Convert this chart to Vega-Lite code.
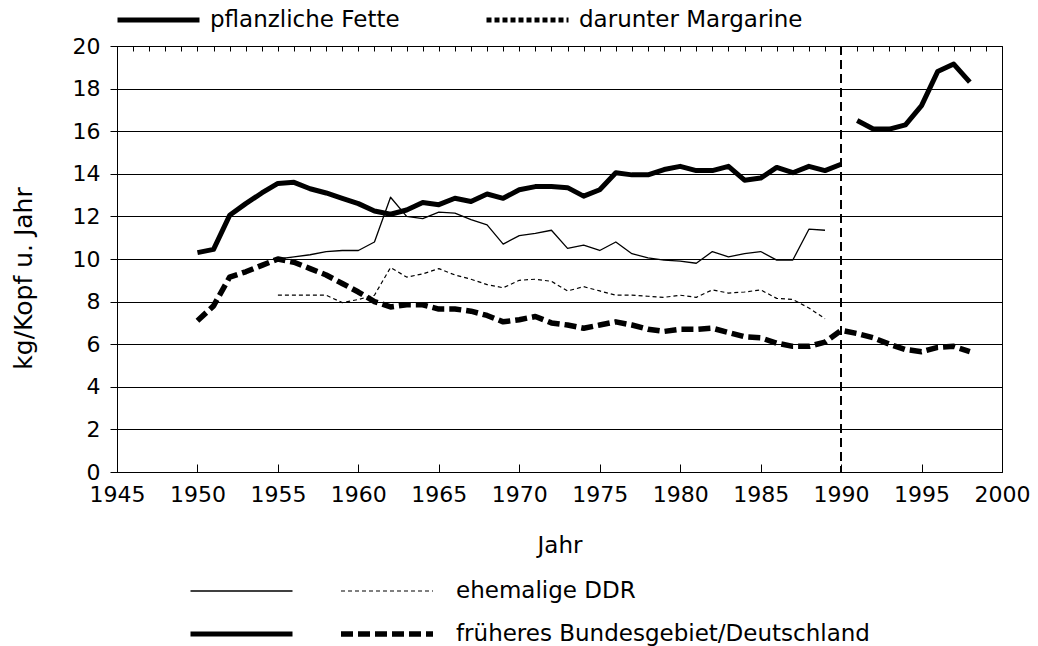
{
  "$schema": "https://vega.github.io/schema/vega-lite/v6.json",
  "width": 885,
  "height": 426,
  "autosize": {"type": "none"},
  "padding": {"left": 117, "top": 46, "right": 36, "bottom": 174},
  "config": {
    "view": {"stroke": "black", "strokeWidth": 1},
    "font": "DejaVu Sans",
    "axis": {"labelColor": "black", "titleColor": "black", "domainColor": "black", "tickColor": "black", "titleFontWeight": "normal", "labelFont": "DejaVu Sans", "titleFont": "DejaVu Sans"},
    "legend": {"labelColor": "black", "labelFont": "DejaVu Sans", "labelFontSize": 23, "labelLimit": 0, "symbolStrokeColor": "black", "symbolType": "stroke", "title": null, "padding": 0}
  },
  "data": {
    "values": [
      {"Jahr": 1950, "Wert": 10.3, "Produkt": "pflanzliche Fette", "Gebiet": "früheres Bundesgebiet/Deutschland", "Reihe": "früheres Bundesgebiet"},
      {"Jahr": 1951, "Wert": 10.45, "Produkt": "pflanzliche Fette", "Gebiet": "früheres Bundesgebiet/Deutschland", "Reihe": "früheres Bundesgebiet"},
      {"Jahr": 1952, "Wert": 12.05, "Produkt": "pflanzliche Fette", "Gebiet": "früheres Bundesgebiet/Deutschland", "Reihe": "früheres Bundesgebiet"},
      {"Jahr": 1953, "Wert": 12.6, "Produkt": "pflanzliche Fette", "Gebiet": "früheres Bundesgebiet/Deutschland", "Reihe": "früheres Bundesgebiet"},
      {"Jahr": 1954, "Wert": 13.1, "Produkt": "pflanzliche Fette", "Gebiet": "früheres Bundesgebiet/Deutschland", "Reihe": "früheres Bundesgebiet"},
      {"Jahr": 1955, "Wert": 13.55, "Produkt": "pflanzliche Fette", "Gebiet": "früheres Bundesgebiet/Deutschland", "Reihe": "früheres Bundesgebiet"},
      {"Jahr": 1956, "Wert": 13.6, "Produkt": "pflanzliche Fette", "Gebiet": "früheres Bundesgebiet/Deutschland", "Reihe": "früheres Bundesgebiet"},
      {"Jahr": 1957, "Wert": 13.3, "Produkt": "pflanzliche Fette", "Gebiet": "früheres Bundesgebiet/Deutschland", "Reihe": "früheres Bundesgebiet"},
      {"Jahr": 1958, "Wert": 13.1, "Produkt": "pflanzliche Fette", "Gebiet": "früheres Bundesgebiet/Deutschland", "Reihe": "früheres Bundesgebiet"},
      {"Jahr": 1959, "Wert": 12.85, "Produkt": "pflanzliche Fette", "Gebiet": "früheres Bundesgebiet/Deutschland", "Reihe": "früheres Bundesgebiet"},
      {"Jahr": 1960, "Wert": 12.6, "Produkt": "pflanzliche Fette", "Gebiet": "früheres Bundesgebiet/Deutschland", "Reihe": "früheres Bundesgebiet"},
      {"Jahr": 1961, "Wert": 12.25, "Produkt": "pflanzliche Fette", "Gebiet": "früheres Bundesgebiet/Deutschland", "Reihe": "früheres Bundesgebiet"},
      {"Jahr": 1962, "Wert": 12.1, "Produkt": "pflanzliche Fette", "Gebiet": "früheres Bundesgebiet/Deutschland", "Reihe": "früheres Bundesgebiet"},
      {"Jahr": 1963, "Wert": 12.3, "Produkt": "pflanzliche Fette", "Gebiet": "früheres Bundesgebiet/Deutschland", "Reihe": "früheres Bundesgebiet"},
      {"Jahr": 1964, "Wert": 12.65, "Produkt": "pflanzliche Fette", "Gebiet": "früheres Bundesgebiet/Deutschland", "Reihe": "früheres Bundesgebiet"},
      {"Jahr": 1965, "Wert": 12.55, "Produkt": "pflanzliche Fette", "Gebiet": "früheres Bundesgebiet/Deutschland", "Reihe": "früheres Bundesgebiet"},
      {"Jahr": 1966, "Wert": 12.85, "Produkt": "pflanzliche Fette", "Gebiet": "früheres Bundesgebiet/Deutschland", "Reihe": "früheres Bundesgebiet"},
      {"Jahr": 1967, "Wert": 12.7, "Produkt": "pflanzliche Fette", "Gebiet": "früheres Bundesgebiet/Deutschland", "Reihe": "früheres Bundesgebiet"},
      {"Jahr": 1968, "Wert": 13.05, "Produkt": "pflanzliche Fette", "Gebiet": "früheres Bundesgebiet/Deutschland", "Reihe": "früheres Bundesgebiet"},
      {"Jahr": 1969, "Wert": 12.85, "Produkt": "pflanzliche Fette", "Gebiet": "früheres Bundesgebiet/Deutschland", "Reihe": "früheres Bundesgebiet"},
      {"Jahr": 1970, "Wert": 13.25, "Produkt": "pflanzliche Fette", "Gebiet": "früheres Bundesgebiet/Deutschland", "Reihe": "früheres Bundesgebiet"},
      {"Jahr": 1971, "Wert": 13.4, "Produkt": "pflanzliche Fette", "Gebiet": "früheres Bundesgebiet/Deutschland", "Reihe": "früheres Bundesgebiet"},
      {"Jahr": 1972, "Wert": 13.4, "Produkt": "pflanzliche Fette", "Gebiet": "früheres Bundesgebiet/Deutschland", "Reihe": "früheres Bundesgebiet"},
      {"Jahr": 1973, "Wert": 13.35, "Produkt": "pflanzliche Fette", "Gebiet": "früheres Bundesgebiet/Deutschland", "Reihe": "früheres Bundesgebiet"},
      {"Jahr": 1974, "Wert": 12.95, "Produkt": "pflanzliche Fette", "Gebiet": "früheres Bundesgebiet/Deutschland", "Reihe": "früheres Bundesgebiet"},
      {"Jahr": 1975, "Wert": 13.25, "Produkt": "pflanzliche Fette", "Gebiet": "früheres Bundesgebiet/Deutschland", "Reihe": "früheres Bundesgebiet"},
      {"Jahr": 1976, "Wert": 14.05, "Produkt": "pflanzliche Fette", "Gebiet": "früheres Bundesgebiet/Deutschland", "Reihe": "früheres Bundesgebiet"},
      {"Jahr": 1977, "Wert": 13.95, "Produkt": "pflanzliche Fette", "Gebiet": "früheres Bundesgebiet/Deutschland", "Reihe": "früheres Bundesgebiet"},
      {"Jahr": 1978, "Wert": 13.95, "Produkt": "pflanzliche Fette", "Gebiet": "früheres Bundesgebiet/Deutschland", "Reihe": "früheres Bundesgebiet"},
      {"Jahr": 1979, "Wert": 14.2, "Produkt": "pflanzliche Fette", "Gebiet": "früheres Bundesgebiet/Deutschland", "Reihe": "früheres Bundesgebiet"},
      {"Jahr": 1980, "Wert": 14.35, "Produkt": "pflanzliche Fette", "Gebiet": "früheres Bundesgebiet/Deutschland", "Reihe": "früheres Bundesgebiet"},
      {"Jahr": 1981, "Wert": 14.15, "Produkt": "pflanzliche Fette", "Gebiet": "früheres Bundesgebiet/Deutschland", "Reihe": "früheres Bundesgebiet"},
      {"Jahr": 1982, "Wert": 14.15, "Produkt": "pflanzliche Fette", "Gebiet": "früheres Bundesgebiet/Deutschland", "Reihe": "früheres Bundesgebiet"},
      {"Jahr": 1983, "Wert": 14.35, "Produkt": "pflanzliche Fette", "Gebiet": "früheres Bundesgebiet/Deutschland", "Reihe": "früheres Bundesgebiet"},
      {"Jahr": 1984, "Wert": 13.7, "Produkt": "pflanzliche Fette", "Gebiet": "früheres Bundesgebiet/Deutschland", "Reihe": "früheres Bundesgebiet"},
      {"Jahr": 1985, "Wert": 13.8, "Produkt": "pflanzliche Fette", "Gebiet": "früheres Bundesgebiet/Deutschland", "Reihe": "früheres Bundesgebiet"},
      {"Jahr": 1986, "Wert": 14.3, "Produkt": "pflanzliche Fette", "Gebiet": "früheres Bundesgebiet/Deutschland", "Reihe": "früheres Bundesgebiet"},
      {"Jahr": 1987, "Wert": 14.05, "Produkt": "pflanzliche Fette", "Gebiet": "früheres Bundesgebiet/Deutschland", "Reihe": "früheres Bundesgebiet"},
      {"Jahr": 1988, "Wert": 14.35, "Produkt": "pflanzliche Fette", "Gebiet": "früheres Bundesgebiet/Deutschland", "Reihe": "früheres Bundesgebiet"},
      {"Jahr": 1989, "Wert": 14.15, "Produkt": "pflanzliche Fette", "Gebiet": "früheres Bundesgebiet/Deutschland", "Reihe": "früheres Bundesgebiet"},
      {"Jahr": 1990, "Wert": 14.45, "Produkt": "pflanzliche Fette", "Gebiet": "früheres Bundesgebiet/Deutschland", "Reihe": "früheres Bundesgebiet"},
      {"Jahr": 1991, "Wert": 16.5, "Produkt": "pflanzliche Fette", "Gebiet": "früheres Bundesgebiet/Deutschland", "Reihe": "Deutschland"},
      {"Jahr": 1992, "Wert": 16.1, "Produkt": "pflanzliche Fette", "Gebiet": "früheres Bundesgebiet/Deutschland", "Reihe": "Deutschland"},
      {"Jahr": 1993, "Wert": 16.1, "Produkt": "pflanzliche Fette", "Gebiet": "früheres Bundesgebiet/Deutschland", "Reihe": "Deutschland"},
      {"Jahr": 1994, "Wert": 16.3, "Produkt": "pflanzliche Fette", "Gebiet": "früheres Bundesgebiet/Deutschland", "Reihe": "Deutschland"},
      {"Jahr": 1995, "Wert": 17.2, "Produkt": "pflanzliche Fette", "Gebiet": "früheres Bundesgebiet/Deutschland", "Reihe": "Deutschland"},
      {"Jahr": 1996, "Wert": 18.8, "Produkt": "pflanzliche Fette", "Gebiet": "früheres Bundesgebiet/Deutschland", "Reihe": "Deutschland"},
      {"Jahr": 1997, "Wert": 19.15, "Produkt": "pflanzliche Fette", "Gebiet": "früheres Bundesgebiet/Deutschland", "Reihe": "Deutschland"},
      {"Jahr": 1998, "Wert": 18.3, "Produkt": "pflanzliche Fette", "Gebiet": "früheres Bundesgebiet/Deutschland", "Reihe": "Deutschland"},
      {"Jahr": 1955, "Wert": 10.0, "Produkt": "pflanzliche Fette", "Gebiet": "ehemalige DDR", "Reihe": "ehemalige DDR"},
      {"Jahr": 1956, "Wert": 10.1, "Produkt": "pflanzliche Fette", "Gebiet": "ehemalige DDR", "Reihe": "ehemalige DDR"},
      {"Jahr": 1957, "Wert": 10.2, "Produkt": "pflanzliche Fette", "Gebiet": "ehemalige DDR", "Reihe": "ehemalige DDR"},
      {"Jahr": 1958, "Wert": 10.35, "Produkt": "pflanzliche Fette", "Gebiet": "ehemalige DDR", "Reihe": "ehemalige DDR"},
      {"Jahr": 1959, "Wert": 10.4, "Produkt": "pflanzliche Fette", "Gebiet": "ehemalige DDR", "Reihe": "ehemalige DDR"},
      {"Jahr": 1960, "Wert": 10.4, "Produkt": "pflanzliche Fette", "Gebiet": "ehemalige DDR", "Reihe": "ehemalige DDR"},
      {"Jahr": 1961, "Wert": 10.8, "Produkt": "pflanzliche Fette", "Gebiet": "ehemalige DDR", "Reihe": "ehemalige DDR"},
      {"Jahr": 1962, "Wert": 12.9, "Produkt": "pflanzliche Fette", "Gebiet": "ehemalige DDR", "Reihe": "ehemalige DDR"},
      {"Jahr": 1963, "Wert": 12.0, "Produkt": "pflanzliche Fette", "Gebiet": "ehemalige DDR", "Reihe": "ehemalige DDR"},
      {"Jahr": 1964, "Wert": 11.9, "Produkt": "pflanzliche Fette", "Gebiet": "ehemalige DDR", "Reihe": "ehemalige DDR"},
      {"Jahr": 1965, "Wert": 12.2, "Produkt": "pflanzliche Fette", "Gebiet": "ehemalige DDR", "Reihe": "ehemalige DDR"},
      {"Jahr": 1966, "Wert": 12.15, "Produkt": "pflanzliche Fette", "Gebiet": "ehemalige DDR", "Reihe": "ehemalige DDR"},
      {"Jahr": 1967, "Wert": 11.85, "Produkt": "pflanzliche Fette", "Gebiet": "ehemalige DDR", "Reihe": "ehemalige DDR"},
      {"Jahr": 1968, "Wert": 11.6, "Produkt": "pflanzliche Fette", "Gebiet": "ehemalige DDR", "Reihe": "ehemalige DDR"},
      {"Jahr": 1969, "Wert": 10.7, "Produkt": "pflanzliche Fette", "Gebiet": "ehemalige DDR", "Reihe": "ehemalige DDR"},
      {"Jahr": 1970, "Wert": 11.1, "Produkt": "pflanzliche Fette", "Gebiet": "ehemalige DDR", "Reihe": "ehemalige DDR"},
      {"Jahr": 1971, "Wert": 11.2, "Produkt": "pflanzliche Fette", "Gebiet": "ehemalige DDR", "Reihe": "ehemalige DDR"},
      {"Jahr": 1972, "Wert": 11.35, "Produkt": "pflanzliche Fette", "Gebiet": "ehemalige DDR", "Reihe": "ehemalige DDR"},
      {"Jahr": 1973, "Wert": 10.5, "Produkt": "pflanzliche Fette", "Gebiet": "ehemalige DDR", "Reihe": "ehemalige DDR"},
      {"Jahr": 1974, "Wert": 10.65, "Produkt": "pflanzliche Fette", "Gebiet": "ehemalige DDR", "Reihe": "ehemalige DDR"},
      {"Jahr": 1975, "Wert": 10.4, "Produkt": "pflanzliche Fette", "Gebiet": "ehemalige DDR", "Reihe": "ehemalige DDR"},
      {"Jahr": 1976, "Wert": 10.8, "Produkt": "pflanzliche Fette", "Gebiet": "ehemalige DDR", "Reihe": "ehemalige DDR"},
      {"Jahr": 1977, "Wert": 10.25, "Produkt": "pflanzliche Fette", "Gebiet": "ehemalige DDR", "Reihe": "ehemalige DDR"},
      {"Jahr": 1978, "Wert": 10.05, "Produkt": "pflanzliche Fette", "Gebiet": "ehemalige DDR", "Reihe": "ehemalige DDR"},
      {"Jahr": 1979, "Wert": 9.95, "Produkt": "pflanzliche Fette", "Gebiet": "ehemalige DDR", "Reihe": "ehemalige DDR"},
      {"Jahr": 1980, "Wert": 9.9, "Produkt": "pflanzliche Fette", "Gebiet": "ehemalige DDR", "Reihe": "ehemalige DDR"},
      {"Jahr": 1981, "Wert": 9.8, "Produkt": "pflanzliche Fette", "Gebiet": "ehemalige DDR", "Reihe": "ehemalige DDR"},
      {"Jahr": 1982, "Wert": 10.35, "Produkt": "pflanzliche Fette", "Gebiet": "ehemalige DDR", "Reihe": "ehemalige DDR"},
      {"Jahr": 1983, "Wert": 10.1, "Produkt": "pflanzliche Fette", "Gebiet": "ehemalige DDR", "Reihe": "ehemalige DDR"},
      {"Jahr": 1984, "Wert": 10.25, "Produkt": "pflanzliche Fette", "Gebiet": "ehemalige DDR", "Reihe": "ehemalige DDR"},
      {"Jahr": 1985, "Wert": 10.35, "Produkt": "pflanzliche Fette", "Gebiet": "ehemalige DDR", "Reihe": "ehemalige DDR"},
      {"Jahr": 1986, "Wert": 9.95, "Produkt": "pflanzliche Fette", "Gebiet": "ehemalige DDR", "Reihe": "ehemalige DDR"},
      {"Jahr": 1987, "Wert": 9.95, "Produkt": "pflanzliche Fette", "Gebiet": "ehemalige DDR", "Reihe": "ehemalige DDR"},
      {"Jahr": 1988, "Wert": 11.4, "Produkt": "pflanzliche Fette", "Gebiet": "ehemalige DDR", "Reihe": "ehemalige DDR"},
      {"Jahr": 1989, "Wert": 11.35, "Produkt": "pflanzliche Fette", "Gebiet": "ehemalige DDR", "Reihe": "ehemalige DDR"},
      {"Jahr": 1950, "Wert": 7.1, "Produkt": "darunter Margarine", "Gebiet": "früheres Bundesgebiet/Deutschland", "Reihe": "früheres Bundesgebiet"},
      {"Jahr": 1951, "Wert": 7.8, "Produkt": "darunter Margarine", "Gebiet": "früheres Bundesgebiet/Deutschland", "Reihe": "früheres Bundesgebiet"},
      {"Jahr": 1952, "Wert": 9.15, "Produkt": "darunter Margarine", "Gebiet": "früheres Bundesgebiet/Deutschland", "Reihe": "früheres Bundesgebiet"},
      {"Jahr": 1953, "Wert": 9.4, "Produkt": "darunter Margarine", "Gebiet": "früheres Bundesgebiet/Deutschland", "Reihe": "früheres Bundesgebiet"},
      {"Jahr": 1954, "Wert": 9.7, "Produkt": "darunter Margarine", "Gebiet": "früheres Bundesgebiet/Deutschland", "Reihe": "früheres Bundesgebiet"},
      {"Jahr": 1955, "Wert": 10.0, "Produkt": "darunter Margarine", "Gebiet": "früheres Bundesgebiet/Deutschland", "Reihe": "früheres Bundesgebiet"},
      {"Jahr": 1956, "Wert": 9.85, "Produkt": "darunter Margarine", "Gebiet": "früheres Bundesgebiet/Deutschland", "Reihe": "früheres Bundesgebiet"},
      {"Jahr": 1957, "Wert": 9.55, "Produkt": "darunter Margarine", "Gebiet": "früheres Bundesgebiet/Deutschland", "Reihe": "früheres Bundesgebiet"},
      {"Jahr": 1958, "Wert": 9.25, "Produkt": "darunter Margarine", "Gebiet": "früheres Bundesgebiet/Deutschland", "Reihe": "früheres Bundesgebiet"},
      {"Jahr": 1959, "Wert": 8.85, "Produkt": "darunter Margarine", "Gebiet": "früheres Bundesgebiet/Deutschland", "Reihe": "früheres Bundesgebiet"},
      {"Jahr": 1960, "Wert": 8.45, "Produkt": "darunter Margarine", "Gebiet": "früheres Bundesgebiet/Deutschland", "Reihe": "früheres Bundesgebiet"},
      {"Jahr": 1961, "Wert": 8.0, "Produkt": "darunter Margarine", "Gebiet": "früheres Bundesgebiet/Deutschland", "Reihe": "früheres Bundesgebiet"},
      {"Jahr": 1962, "Wert": 7.75, "Produkt": "darunter Margarine", "Gebiet": "früheres Bundesgebiet/Deutschland", "Reihe": "früheres Bundesgebiet"},
      {"Jahr": 1963, "Wert": 7.85, "Produkt": "darunter Margarine", "Gebiet": "früheres Bundesgebiet/Deutschland", "Reihe": "früheres Bundesgebiet"},
      {"Jahr": 1964, "Wert": 7.85, "Produkt": "darunter Margarine", "Gebiet": "früheres Bundesgebiet/Deutschland", "Reihe": "früheres Bundesgebiet"},
      {"Jahr": 1965, "Wert": 7.65, "Produkt": "darunter Margarine", "Gebiet": "früheres Bundesgebiet/Deutschland", "Reihe": "früheres Bundesgebiet"},
      {"Jahr": 1966, "Wert": 7.65, "Produkt": "darunter Margarine", "Gebiet": "früheres Bundesgebiet/Deutschland", "Reihe": "früheres Bundesgebiet"},
      {"Jahr": 1967, "Wert": 7.55, "Produkt": "darunter Margarine", "Gebiet": "früheres Bundesgebiet/Deutschland", "Reihe": "früheres Bundesgebiet"},
      {"Jahr": 1968, "Wert": 7.35, "Produkt": "darunter Margarine", "Gebiet": "früheres Bundesgebiet/Deutschland", "Reihe": "früheres Bundesgebiet"},
      {"Jahr": 1969, "Wert": 7.05, "Produkt": "darunter Margarine", "Gebiet": "früheres Bundesgebiet/Deutschland", "Reihe": "früheres Bundesgebiet"},
      {"Jahr": 1970, "Wert": 7.15, "Produkt": "darunter Margarine", "Gebiet": "früheres Bundesgebiet/Deutschland", "Reihe": "früheres Bundesgebiet"},
      {"Jahr": 1971, "Wert": 7.3, "Produkt": "darunter Margarine", "Gebiet": "früheres Bundesgebiet/Deutschland", "Reihe": "früheres Bundesgebiet"},
      {"Jahr": 1972, "Wert": 7.0, "Produkt": "darunter Margarine", "Gebiet": "früheres Bundesgebiet/Deutschland", "Reihe": "früheres Bundesgebiet"},
      {"Jahr": 1973, "Wert": 6.9, "Produkt": "darunter Margarine", "Gebiet": "früheres Bundesgebiet/Deutschland", "Reihe": "früheres Bundesgebiet"},
      {"Jahr": 1974, "Wert": 6.75, "Produkt": "darunter Margarine", "Gebiet": "früheres Bundesgebiet/Deutschland", "Reihe": "früheres Bundesgebiet"},
      {"Jahr": 1975, "Wert": 6.9, "Produkt": "darunter Margarine", "Gebiet": "früheres Bundesgebiet/Deutschland", "Reihe": "früheres Bundesgebiet"},
      {"Jahr": 1976, "Wert": 7.05, "Produkt": "darunter Margarine", "Gebiet": "früheres Bundesgebiet/Deutschland", "Reihe": "früheres Bundesgebiet"},
      {"Jahr": 1977, "Wert": 6.9, "Produkt": "darunter Margarine", "Gebiet": "früheres Bundesgebiet/Deutschland", "Reihe": "früheres Bundesgebiet"},
      {"Jahr": 1978, "Wert": 6.7, "Produkt": "darunter Margarine", "Gebiet": "früheres Bundesgebiet/Deutschland", "Reihe": "früheres Bundesgebiet"},
      {"Jahr": 1979, "Wert": 6.6, "Produkt": "darunter Margarine", "Gebiet": "früheres Bundesgebiet/Deutschland", "Reihe": "früheres Bundesgebiet"},
      {"Jahr": 1980, "Wert": 6.7, "Produkt": "darunter Margarine", "Gebiet": "früheres Bundesgebiet/Deutschland", "Reihe": "früheres Bundesgebiet"},
      {"Jahr": 1981, "Wert": 6.7, "Produkt": "darunter Margarine", "Gebiet": "früheres Bundesgebiet/Deutschland", "Reihe": "früheres Bundesgebiet"},
      {"Jahr": 1982, "Wert": 6.75, "Produkt": "darunter Margarine", "Gebiet": "früheres Bundesgebiet/Deutschland", "Reihe": "früheres Bundesgebiet"},
      {"Jahr": 1983, "Wert": 6.55, "Produkt": "darunter Margarine", "Gebiet": "früheres Bundesgebiet/Deutschland", "Reihe": "früheres Bundesgebiet"},
      {"Jahr": 1984, "Wert": 6.35, "Produkt": "darunter Margarine", "Gebiet": "früheres Bundesgebiet/Deutschland", "Reihe": "früheres Bundesgebiet"},
      {"Jahr": 1985, "Wert": 6.3, "Produkt": "darunter Margarine", "Gebiet": "früheres Bundesgebiet/Deutschland", "Reihe": "früheres Bundesgebiet"},
      {"Jahr": 1986, "Wert": 6.05, "Produkt": "darunter Margarine", "Gebiet": "früheres Bundesgebiet/Deutschland", "Reihe": "früheres Bundesgebiet"},
      {"Jahr": 1987, "Wert": 5.9, "Produkt": "darunter Margarine", "Gebiet": "früheres Bundesgebiet/Deutschland", "Reihe": "früheres Bundesgebiet"},
      {"Jahr": 1988, "Wert": 5.9, "Produkt": "darunter Margarine", "Gebiet": "früheres Bundesgebiet/Deutschland", "Reihe": "früheres Bundesgebiet"},
      {"Jahr": 1989, "Wert": 6.1, "Produkt": "darunter Margarine", "Gebiet": "früheres Bundesgebiet/Deutschland", "Reihe": "früheres Bundesgebiet"},
      {"Jahr": 1990, "Wert": 6.65, "Produkt": "darunter Margarine", "Gebiet": "früheres Bundesgebiet/Deutschland", "Reihe": "früheres Bundesgebiet"},
      {"Jahr": 1991, "Wert": 6.5, "Produkt": "darunter Margarine", "Gebiet": "früheres Bundesgebiet/Deutschland", "Reihe": "Deutschland"},
      {"Jahr": 1992, "Wert": 6.3, "Produkt": "darunter Margarine", "Gebiet": "früheres Bundesgebiet/Deutschland", "Reihe": "Deutschland"},
      {"Jahr": 1993, "Wert": 6.0, "Produkt": "darunter Margarine", "Gebiet": "früheres Bundesgebiet/Deutschland", "Reihe": "Deutschland"},
      {"Jahr": 1994, "Wert": 5.75, "Produkt": "darunter Margarine", "Gebiet": "früheres Bundesgebiet/Deutschland", "Reihe": "Deutschland"},
      {"Jahr": 1995, "Wert": 5.65, "Produkt": "darunter Margarine", "Gebiet": "früheres Bundesgebiet/Deutschland", "Reihe": "Deutschland"},
      {"Jahr": 1996, "Wert": 5.85, "Produkt": "darunter Margarine", "Gebiet": "früheres Bundesgebiet/Deutschland", "Reihe": "Deutschland"},
      {"Jahr": 1997, "Wert": 5.9, "Produkt": "darunter Margarine", "Gebiet": "früheres Bundesgebiet/Deutschland", "Reihe": "Deutschland"},
      {"Jahr": 1998, "Wert": 5.65, "Produkt": "darunter Margarine", "Gebiet": "früheres Bundesgebiet/Deutschland", "Reihe": "Deutschland"},
      {"Jahr": 1955, "Wert": 8.3, "Produkt": "darunter Margarine", "Gebiet": "ehemalige DDR", "Reihe": "ehemalige DDR"},
      {"Jahr": 1956, "Wert": 8.3, "Produkt": "darunter Margarine", "Gebiet": "ehemalige DDR", "Reihe": "ehemalige DDR"},
      {"Jahr": 1957, "Wert": 8.3, "Produkt": "darunter Margarine", "Gebiet": "ehemalige DDR", "Reihe": "ehemalige DDR"},
      {"Jahr": 1958, "Wert": 8.3, "Produkt": "darunter Margarine", "Gebiet": "ehemalige DDR", "Reihe": "ehemalige DDR"},
      {"Jahr": 1959, "Wert": 7.95, "Produkt": "darunter Margarine", "Gebiet": "ehemalige DDR", "Reihe": "ehemalige DDR"},
      {"Jahr": 1960, "Wert": 8.1, "Produkt": "darunter Margarine", "Gebiet": "ehemalige DDR", "Reihe": "ehemalige DDR"},
      {"Jahr": 1961, "Wert": 8.3, "Produkt": "darunter Margarine", "Gebiet": "ehemalige DDR", "Reihe": "ehemalige DDR"},
      {"Jahr": 1962, "Wert": 9.6, "Produkt": "darunter Margarine", "Gebiet": "ehemalige DDR", "Reihe": "ehemalige DDR"},
      {"Jahr": 1963, "Wert": 9.15, "Produkt": "darunter Margarine", "Gebiet": "ehemalige DDR", "Reihe": "ehemalige DDR"},
      {"Jahr": 1964, "Wert": 9.3, "Produkt": "darunter Margarine", "Gebiet": "ehemalige DDR", "Reihe": "ehemalige DDR"},
      {"Jahr": 1965, "Wert": 9.55, "Produkt": "darunter Margarine", "Gebiet": "ehemalige DDR", "Reihe": "ehemalige DDR"},
      {"Jahr": 1966, "Wert": 9.25, "Produkt": "darunter Margarine", "Gebiet": "ehemalige DDR", "Reihe": "ehemalige DDR"},
      {"Jahr": 1967, "Wert": 9.05, "Produkt": "darunter Margarine", "Gebiet": "ehemalige DDR", "Reihe": "ehemalige DDR"},
      {"Jahr": 1968, "Wert": 8.8, "Produkt": "darunter Margarine", "Gebiet": "ehemalige DDR", "Reihe": "ehemalige DDR"},
      {"Jahr": 1969, "Wert": 8.65, "Produkt": "darunter Margarine", "Gebiet": "ehemalige DDR", "Reihe": "ehemalige DDR"},
      {"Jahr": 1970, "Wert": 9.0, "Produkt": "darunter Margarine", "Gebiet": "ehemalige DDR", "Reihe": "ehemalige DDR"},
      {"Jahr": 1971, "Wert": 9.05, "Produkt": "darunter Margarine", "Gebiet": "ehemalige DDR", "Reihe": "ehemalige DDR"},
      {"Jahr": 1972, "Wert": 8.95, "Produkt": "darunter Margarine", "Gebiet": "ehemalige DDR", "Reihe": "ehemalige DDR"},
      {"Jahr": 1973, "Wert": 8.5, "Produkt": "darunter Margarine", "Gebiet": "ehemalige DDR", "Reihe": "ehemalige DDR"},
      {"Jahr": 1974, "Wert": 8.7, "Produkt": "darunter Margarine", "Gebiet": "ehemalige DDR", "Reihe": "ehemalige DDR"},
      {"Jahr": 1975, "Wert": 8.5, "Produkt": "darunter Margarine", "Gebiet": "ehemalige DDR", "Reihe": "ehemalige DDR"},
      {"Jahr": 1976, "Wert": 8.3, "Produkt": "darunter Margarine", "Gebiet": "ehemalige DDR", "Reihe": "ehemalige DDR"},
      {"Jahr": 1977, "Wert": 8.3, "Produkt": "darunter Margarine", "Gebiet": "ehemalige DDR", "Reihe": "ehemalige DDR"},
      {"Jahr": 1978, "Wert": 8.25, "Produkt": "darunter Margarine", "Gebiet": "ehemalige DDR", "Reihe": "ehemalige DDR"},
      {"Jahr": 1979, "Wert": 8.2, "Produkt": "darunter Margarine", "Gebiet": "ehemalige DDR", "Reihe": "ehemalige DDR"},
      {"Jahr": 1980, "Wert": 8.3, "Produkt": "darunter Margarine", "Gebiet": "ehemalige DDR", "Reihe": "ehemalige DDR"},
      {"Jahr": 1981, "Wert": 8.2, "Produkt": "darunter Margarine", "Gebiet": "ehemalige DDR", "Reihe": "ehemalige DDR"},
      {"Jahr": 1982, "Wert": 8.55, "Produkt": "darunter Margarine", "Gebiet": "ehemalige DDR", "Reihe": "ehemalige DDR"},
      {"Jahr": 1983, "Wert": 8.4, "Produkt": "darunter Margarine", "Gebiet": "ehemalige DDR", "Reihe": "ehemalige DDR"},
      {"Jahr": 1984, "Wert": 8.45, "Produkt": "darunter Margarine", "Gebiet": "ehemalige DDR", "Reihe": "ehemalige DDR"},
      {"Jahr": 1985, "Wert": 8.55, "Produkt": "darunter Margarine", "Gebiet": "ehemalige DDR", "Reihe": "ehemalige DDR"},
      {"Jahr": 1986, "Wert": 8.15, "Produkt": "darunter Margarine", "Gebiet": "ehemalige DDR", "Reihe": "ehemalige DDR"},
      {"Jahr": 1987, "Wert": 8.1, "Produkt": "darunter Margarine", "Gebiet": "ehemalige DDR", "Reihe": "ehemalige DDR"},
      {"Jahr": 1988, "Wert": 7.7, "Produkt": "darunter Margarine", "Gebiet": "ehemalige DDR", "Reihe": "ehemalige DDR"},
      {"Jahr": 1989, "Wert": 7.2, "Produkt": "darunter Margarine", "Gebiet": "ehemalige DDR", "Reihe": "ehemalige DDR"}
    ]
  },
  "layer": [
    {
      "transform": [{"filter": "datum.Produkt === 'pflanzliche Fette'"}],
      "mark": {"type": "line", "color": "black", "strokeJoin": "round", "strokeCap": "butt"},
      "encoding": {
        "x": {
          "field": "Jahr", "type": "quantitative",
          "scale": {"domain": [1945, 2000], "nice": false, "zero": false},
          "axis": {"values": [1945, 1950, 1955, 1960, 1965, 1970, 1975, 1980, 1985, 1990, 1995, 2000], "format": "d", "grid": false, "tickSize": -8, "labelPadding": 20, "labelFontSize": 22, "title": "Jahr", "titleFontSize": 23, "titleY": 73, "titleBaseline": "middle", "labelFlush": false}
        },
        "y": {
          "field": "Wert", "type": "quantitative",
          "scale": {"domain": [0, 20], "nice": false},
          "axis": {"values": [0, 2, 4, 6, 8, 10, 12, 14, 16, 18, 20], "format": "d", "grid": true, "gridColor": "black", "gridOpacity": 1, "gridWidth": 1, "tickSize": 7, "labelPadding": 10, "labelFontSize": 22, "title": "kg/Kopf u. Jahr", "titleFontSize": 25, "titleAngle": -90, "titleX": -94, "titleY": 232, "titleAlign": "center", "titleBaseline": "middle", "labelFlush": false}
        },
        "strokeWidth": {
          "field": "Gebiet", "type": "nominal",
          "scale": {"domain": ["ehemalige DDR", "früheres Bundesgebiet/Deutschland"], "range": [1.3, 5]},
          "legend": {"orient": "none", "legendX": 71, "legendY": 535, "direction": "vertical", "labelExpr": "''", "symbolSize": 10404, "clipHeight": 20, "rowPadding": 20}
        },
        "detail": {"field": "Reihe"}
      }
    },
    {
      "transform": [{"filter": "datum.Produkt === 'darunter Margarine'"}],
      "mark": {"type": "line", "color": "black", "strokeJoin": "round", "strokeCap": "butt"},
      "encoding": {
        "x": {"field": "Jahr", "type": "quantitative", "axis": null},
        "y": {"field": "Wert", "type": "quantitative", "axis": null},
        "strokeWidth": {
          "field": "Gebiet", "type": "nominal",
          "scale": {"domain": ["ehemalige DDR", "früheres Bundesgebiet/Deutschland"], "range": [1.2, 5.5]},
          "legend": {"orient": "none", "legendX": 221, "legendY": 535, "direction": "vertical", "symbolSize": 8464, "clipHeight": 20, "rowPadding": 20, "labelOffset": 20}
        },
        "strokeDash": {
          "field": "Gebiet", "type": "nominal",
          "scale": {"domain": ["ehemalige DDR", "früheres Bundesgebiet/Deutschland"], "range": [[4, 3], [12, 5]]},
          "legend": {"orient": "none", "legendX": 221, "legendY": 535, "direction": "vertical", "symbolSize": 8464, "clipHeight": 20, "rowPadding": 20, "labelOffset": 20}
        }
      }
    },
    {
      "mark": {"type": "line", "color": "black", "opacity": 0},
      "encoding": {
        "x": {"field": "Jahr", "type": "quantitative", "axis": null},
        "y": {"field": "Wert", "type": "quantitative", "axis": null},
        "strokeDash": {
          "field": "Produkt", "type": "nominal",
          "scale": {"domain": ["pflanzliche Fette", "darunter Margarine"], "range": [[1, 0], [5, 3]]},
          "legend": {"orient": "none", "legendX": -2, "legendY": -36, "direction": "horizontal", "columns": 2, "symbolSize": 6724, "symbolStrokeWidth": 5, "symbolOpacity": 1, "clipHeight": 20, "labelOffset": 8, "columnPadding": 84}
        },
        "detail": {"field": "Reihe"}
      }
    },
    {
      "mark": {"type": "rule", "color": "black", "strokeWidth": 1, "strokeDash": [9, 5]},
      "encoding": {
        "x": {
          "datum": 1990, "type": "quantitative",
          "axis": {"values": [1945, 1946, 1947, 1948, 1949, 1950, 1951, 1952, 1953, 1954, 1955, 1956, 1957, 1958, 1959, 1960, 1961, 1962, 1963, 1964, 1965, 1966, 1967, 1968, 1969, 1970, 1971, 1972, 1973, 1974, 1975, 1976, 1977, 1978, 1979, 1980, 1981, 1982, 1983, 1984, 1985, 1986, 1987, 1988, 1989, 1990, 1991, 1992, 1993, 1994, 1995, 1996, 1997, 1998, 1999, 2000], "labels": false, "domain": false, "grid": false, "tickSize": -5, "title": null}
        }
      }
    }
  ],
  "resolve": {
    "scale": {"strokeWidth": "independent", "strokeDash": "independent"},
    "legend": {"strokeWidth": "independent", "strokeDash": "independent"},
    "axis": {"x": "independent", "y": "independent"}
  }
}
